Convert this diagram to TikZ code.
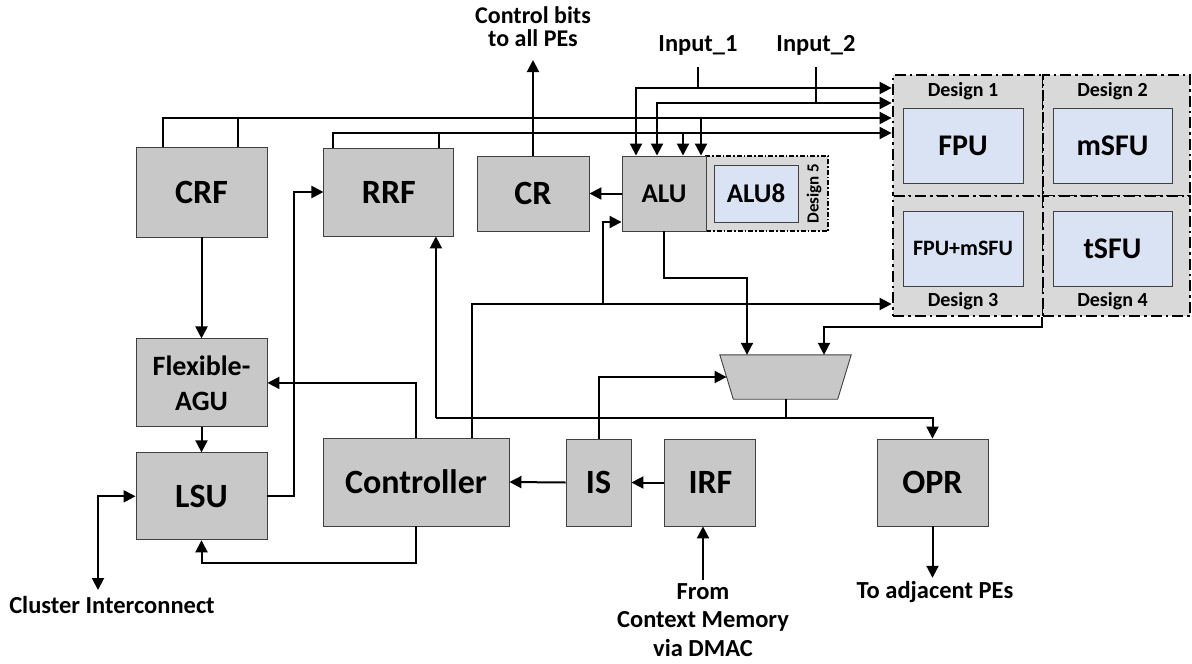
\documentclass[tikz,border=0pt]{standalone}
\usepackage{fontspec}
\setmainfont{Carlito}
\usepackage{xcolor}
\usepackage{tikz}
\usetikzlibrary{shapes.geometric, arrows.meta, positioning, fit, calc}

\definecolor{blockgray}{HTML}{C8C8C8}
\definecolor{cellgray}{HTML}{D9D9D9}
\definecolor{fublue}{HTML}{DAE3F3}
\definecolor{edgegray}{HTML}{404040}

\begin{document}
\begin{tikzpicture}[
    x=1pt, y=-1pt,
    every node/.style={font=\bfseries},
    blk/.style={rectangle, draw=edgegray, line width=0.9pt, fill=blockgray, inner sep=0pt, align=center, font=\fontsize{34}{36}\selectfont\bfseries},
    fu/.style={rectangle, draw=edgegray, line width=0.9pt, fill=fublue, inner sep=0pt, minimum width=120pt, minimum height=75pt, align=center, font=\fontsize{30}{32}\selectfont\bfseries},
    cell/.style={rectangle, draw=black, line width=2.4pt, dash pattern=on 11pt off 4pt on 2.5pt off 4pt, fill=cellgray, inner sep=0pt},
    smallcell/.style={rectangle, draw=black, line width=1.5pt, dash pattern=on 5pt off 2pt on 1.5pt off 2pt, fill=cellgray, inner sep=0pt},
    muxbox/.style={rectangle, minimum width=131pt, minimum height=44pt, inner sep=0pt},
    lbl/.style={align=center, font=\fontsize{24.5}{28.5}\selectfont\bfseries},
    dlbl/.style={font=\fontsize{20}{22}\selectfont\bfseries},
    arr/.style={-{Triangle[length=12pt,width=12pt]}, line width=2pt},
    arr2/.style={{Triangle[length=12pt,width=12pt]}-{Triangle[length=12pt,width=12pt]}, line width=2pt},
    wire/.style={line width=2pt}
]
    \useasboundingbox (0,0) rectangle (1192,664);

    % design variants
    \node (d1) [cell, minimum width=150pt, minimum height=121pt] at (968,135.5) {};
    \node (d2) [cell, minimum width=147pt, minimum height=121pt] at (1116.5,135.5) {};
    \node (d3) [cell, minimum width=150pt, minimum height=120pt] at (968,256) {};
    \node (d4) [cell, minimum width=147pt, minimum height=120pt] at (1116.5,256) {};
    \node (dsg) [fit=(d1)(d4), inner sep=0pt] {};

    \node (fpu) [fu] at (963,145.5) {FPU};
    \node (msfu) [fu, minimum width=119pt] at (1112.5,145.5) {mSFU};
    \node (fpumsfu) [fu, font=\fontsize{22}{24}\selectfont\bfseries] at (963,248.5) {FPU+mSFU};
    \node (tsfu) [fu, minimum width=119pt] at (1112.5,248.5) {tSFU};

    \node (lbl1) [dlbl] at (963,91) {Design 1};
    \node (lbl2) [dlbl] at (1112.5,91) {Design 2};
    \node (lbl3) [dlbl] at (963,301) {Design 3};
    \node (lbl4) [dlbl] at (1112.5,301) {Design 4};

    % datapath blocks
    \node (crf) [blk, minimum width=131pt, minimum height=90pt] at (201.5,192) {CRF};
    \node (rrf) [blk, minimum width=130pt, minimum height=88pt, right=56pt of crf] {RRF};
    \node (cr) [blk, minimum width=112pt, minimum height=75pt] at (533,193.5) {CR};
    \node (d5) [smallcell, minimum width=122pt, minimum height=75pt] at (767,193.5) {};
    \node (alu) [blk, minimum width=84pt, minimum height=75pt, font=\fontsize{27}{28}\selectfont\bfseries] at (664,193.5) {ALU};
    \node (alu8) [fu, minimum width=84pt, minimum height=57pt, font=\fontsize{27}{28}\selectfont\bfseries] at (756,193.5) {ALU8};
    \node (lbl5) [dlbl, rotate=90, font=\fontsize{17}{18}\selectfont\bfseries] at (814,193.5) {Design 5};

    \node (agu) [blk, minimum width=131pt, minimum height=88pt, below=101pt of crf, font=\fontsize{28}{35}\selectfont\bfseries] {Flexible-\\AGU};
    \node (lsu) [blk, minimum width=131pt, minimum height=87pt, below=25pt of agu] {LSU};
    \node (ctl) [blk, minimum width=186pt, minimum height=88pt] at (416,482) {Controller};
    \node (is) [blk, minimum width=65pt, minimum height=87pt] at (598.5,482.5) {IS};
    \node (irf) [blk, minimum width=91pt, minimum height=87pt, right=33pt of is] {IRF};
    \node (opr) [blk, minimum width=111pt, minimum height=87pt] at (932.5,482.5) {OPR};

    % output mux
    \node (mx) [muxbox] at (785.5,377) {};
    \draw[draw=edgegray, line width=0.9pt, fill=blockgray] (mx.north west) -- (mx.north east)
        -- ([xshift=-13.5pt]mx.south east) -- ([xshift=13.5pt]mx.south west) -- cycle;

    % outside labels
    \node (bits) [lbl, font=\fontsize{24}{23}\selectfont\bfseries] at (533,27) {Control bits\\to all PEs};
    \node (in1) [lbl] at (698,45) {Input\_1};
    \node (in2) [lbl] at (816,45) {Input\_2};
    \node (clu) [lbl] at (112,605) {Cluster Interconnect};
    \node (ctx) [lbl] at (703,620) {From\\Context Memory\\via DMAC};
    \node (adj) [lbl] at (935,592) {To adjacent PEs};

    \coordinate (bitsend) at (533,60);
    \coordinate (intop) at (0,67);
    \coordinate (cluend) at (98,590);
    \coordinate (tapE) at (603,304);
    \coordinate (busA) at (0,88);
    \coordinate (busB) at (0,103);
    \coordinate (busC) at (0,118);
    \coordinate (busD) at (0,133);
    \coordinate (busE) at (0,304);
    \coordinate (busF) at (0,418);
    \coordinate (busG) at (0,278);
    \coordinate (busH) at (0,327);
    \coordinate (aluA) at ([xshift=-28pt]alu.north);
    \coordinate (aluB) at ([xshift=-7pt]alu.north);
    \coordinate (aluC) at ([xshift=19pt]alu.north);
    \coordinate (aluD) at ([xshift=37pt]alu.north);
    \coordinate (aluL) at ([yshift=-28.5pt]alu.west);
    \coordinate (crfL) at ([xshift=-38.5pt]crf.north);
    \coordinate (crfR) at ([xshift=36.5pt]crf.north);
    \coordinate (rrfL) at ([xshift=-56pt]rrf.north);
    \coordinate (rrfR) at ([xshift=50pt]rrf.north);
    \coordinate (rrfB) at ([xshift=47pt]rrf.south);
    \coordinate (ctlR) at ([xshift=56pt]ctl.north);
    \coordinate (muxL) at ([xshift=-38.5pt]mx.north);
    \coordinate (muxR) at ([xshift=38.5pt]mx.north);
    \coordinate (muxW) at ([xshift=6.75pt]mx.west);
    \coordinate (muxS) at (mx.south);

    % buses into ALU and designs
    \draw[arr] (in1 |- intop) |- (dsg.west |- busA);
    \draw[arr] (in1 |- busA) -| (aluA);
    \draw[arr] (in2 |- intop) |- (dsg.west |- busB);
    \draw[arr] (in2 |- busB) -| (aluB);
    \draw[arr] (crfL) |- (dsg.west |- busC);
    \draw[wire] (crfR) -- (crfR |- busC);
    \draw[arr] (aluD |- busC) -- (aluD);
    \draw[arr] (rrfL) |- (dsg.west |- busD);
    \draw[wire] (rrfR) -- (rrfR |- busD);
    \draw[arr] (aluC |- busD) -- (aluC);

    \draw[arr] (cr.north) -- (bitsend);
    \draw[arr] (alu.west) -- (cr.east);

    \draw[arr] (ctlR) |- (dsg.west |- busE);
    \draw[arr] (tapE) |- (aluL);

    % mux
    \draw[arr] (alu.south) -- (alu.south |- busG) -| (muxL);
    \draw[arr] (dsg.south) -- (dsg.south |- busH) -| (muxR);
    \draw[arr] (is.north) |- (muxW);
    \draw[wire] (muxS) -- (muxS |- busF);
    \draw[arr] (rrfB |- busF) -| (opr.north);
    \draw[arr] (rrfB |- busF) -- (rrfB);

    % control and memory side
    \draw[arr] (ctl.north) |- (agu.east);
    \draw[arr] (ctl.south) -- ++(0,37) -| (lsu.south);
    \draw[arr] (lsu.east) -- ++(27,0) |- (rrf.west);
    \draw[arr] (crf.south) -- (agu.north);
    \draw[arr] (agu.south) -- (lsu.north);
    \draw[arr2] (cluend) |- (lsu.west);
    \draw[arr] (irf.west) -- (is.east);
    \draw[arr] (is.west) -- (ctl.east);
    \draw[arr] (ctx.north) -- (ctx.north |- irf.south);
    \draw[arr] (opr.south) -- (opr.south |- adj.north);
\end{tikzpicture}
\end{document}
